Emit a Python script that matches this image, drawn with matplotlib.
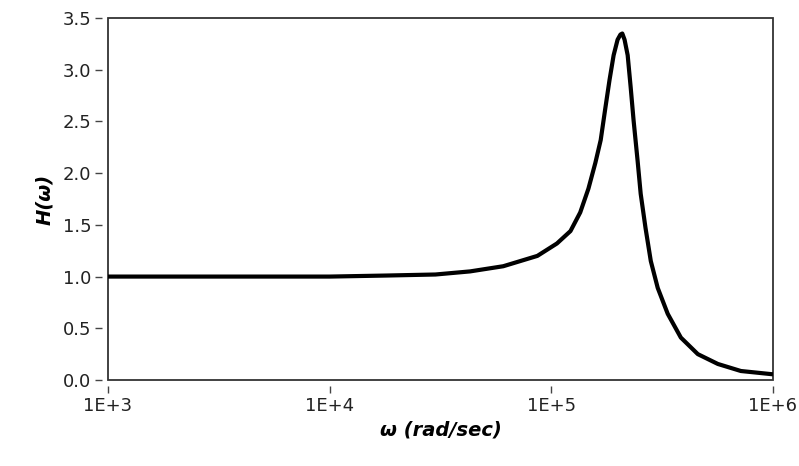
import matplotlib
matplotlib.use("Agg")
import matplotlib.pyplot as plt
from matplotlib.patches import Rectangle

# values
omega = [1.0e3, 3.2e3, 1.0e4, 1.8e4, 3.0e4, 4.3e4, 6.07e4, 8.65e4, 1.06e5,
         1.22e5, 1.35e5, 1.47e5, 1.58e5, 1.67e5, 1.75e5, 1.83e5, 1.91e5,
         1.99e5, 2.05e5, 2.09e5, 2.14e5, 2.21e5, 2.28e5, 2.35e5, 2.45e5,
         2.53e5, 2.66e5, 2.81e5, 3.02e5, 3.35e5, 3.84e5, 4.58e5, 5.64e5,
         7.16e5, 1.0e6]
H = [1.00, 1.00, 1.00, 1.01, 1.02, 1.05, 1.10, 1.20, 1.32,
     1.44, 1.62, 1.85, 2.10, 2.32, 2.62, 2.90, 3.14,
     3.29, 3.34, 3.35, 3.29, 3.14, 2.83, 2.51, 2.12,
     1.80, 1.47, 1.15, 0.89, 0.64, 0.41, 0.25, 0.155,
     0.087, 0.055]

xticks = [1e3, 1e4, 1e5, 1e6]
xticklabels = ["1E+3", "1E+4", "1E+5", "1E+6"]
yticks = [0.0, 0.5, 1.0, 1.5, 2.0, 2.5, 3.0, 3.5]

plt.rcParams["font.family"] = ["DejaVu Sans"]

fig = plt.figure(figsize=(7.99, 4.66), dpi=100)
ax = fig.add_axes([108 / 799, 1 - 380 / 466, (773 - 108) / 799, (380 - 18) / 466])

ax.plot(omega, H, color="black", linewidth=3.0, solid_joinstyle="round",
        solid_capstyle="butt")

ax.set_xscale("log")
ax.set_xlim(1e3, 1e6)
ax.set_ylim(0, 3.5)
ax.set_xticks(xticks)
ax.set_xticklabels(xticklabels)
ax.minorticks_off()
ax.set_yticks(yticks)
ax.set_yticklabels(["%.1f" % v for v in yticks])

# LabVIEW-like frame: ticks sit a little away from the plot box
for side in ["left", "bottom"]:
    ax.spines[side].set_position(("outward", 4))
for side in ax.spines:
    ax.spines[side].set_visible(False)
ax.add_patch(Rectangle((0, 0), 1, 1, transform=ax.transAxes, fill=False,
                       edgecolor="#333333", linewidth=1.3, clip_on=False))

ax.tick_params(axis="both", direction="out", length=5, width=1.0,
               color="#444444", labelsize=13, labelcolor="#222222", pad=3)

ax.set_xlabel("\u03c9 (rad/sec)", fontsize=14, fontweight="bold",
              fontstyle="italic", labelpad=4)
ax.set_ylabel("H(\u03c9)", fontsize=14, fontweight="bold",
              fontstyle="italic", labelpad=6)

fig.savefig("out.png", dpi=100)
